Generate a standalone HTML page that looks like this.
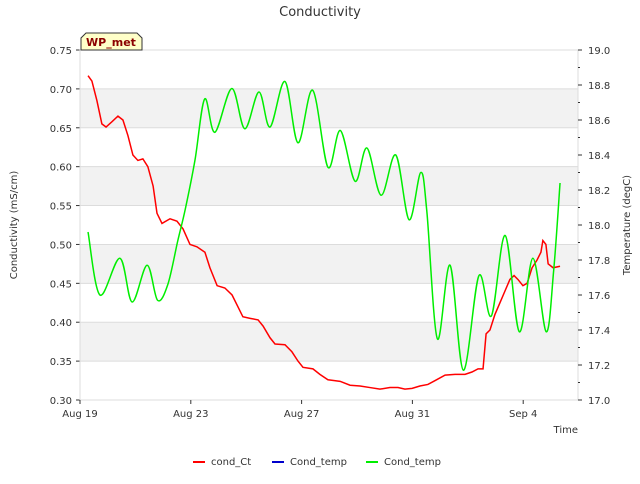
<!DOCTYPE html>
<html><head><meta charset="utf-8"><style>
body{margin:0;background:#fff;font-family:"DejaVu Sans","Liberation Sans",sans-serif;}
svg text{font-family:"DejaVu Sans","Liberation Sans",sans-serif;}
</style></head><body>
<svg id="c" width="640" height="480" xmlns="http://www.w3.org/2000/svg"></svg>
<script>
const leftTicks=[0.30,0.35,0.40,0.45,0.50,0.55,0.60,0.65,0.70,0.75];
const rightTicks=[17.0,17.2,17.4,17.6,17.8,18.0,18.2,18.4,18.6,18.8,19.0];
const xTickDays=[0,4,8,12,16];
const xTickLabels=["Aug 19","Aug 23","Aug 27","Aug 31","Sep 4"];
const condDays=[0.29,0.43,0.61,0.79,0.94,1.16,1.37,1.55,1.73,1.91,2.09,2.27,2.45,2.64,2.78,2.96,3.25,3.5,3.72,3.97,4.22,4.51,4.69,4.95,5.23,5.49,5.7,5.88,6.14,6.43,6.61,6.86,7.04,7.4,7.65,7.87,8.05,8.41,8.66,8.95,9.39,9.75,10.11,10.47,10.83,11.19,11.48,11.73,11.99,12.27,12.56,12.82,13.18,13.54,13.9,14.15,14.37,14.55,14.66,14.8,14.98,15.16,15.34,15.52,15.67,15.81,15.99,16.14,16.32,16.5,16.64,16.71,16.82,16.9,17.08,17.33];
const condVals=[.717,.71,.685,.655,.651,.658,.665,.66,.64,.615,.608,.61,.6,.575,.54,.527,.533,.53,.52,.5,.497,.49,.47,.447,.444,.435,.42,.407,.405,.403,.395,.38,.372,.371,.362,.35,.342,.34,.333,.326,.324,.319,.318,.316,.314,.316,.316,.314,.315,.318,.32,.325,.332,.333,.333,.336,.34,.34,.385,.39,.41,.425,.44,.455,.46,.455,.447,.45,.47,.48,.49,.505,.5,.475,.47,.472];
const tempDays=[0.29,0.72,1.44,1.88,2.42,2.8,3.17,3.53,3.8,4.15,4.5,4.87,5.48,5.95,6.46,6.86,7.4,7.87,8.4,8.95,9.4,9.93,10.36,10.87,11.4,11.88,12.3,12.52,12.9,13.36,13.84,14.4,14.85,15.35,15.86,16.35,16.83,17.1,17.33];
const tempVals=[17.96,17.6,17.81,17.56,17.77,17.57,17.66,17.91,18.09,18.37,18.72,18.53,18.78,18.55,18.76,18.56,18.82,18.47,18.77,18.33,18.54,18.25,18.44,18.17,18.4,18.03,18.3,18.08,17.35,17.77,17.17,17.71,17.48,17.94,17.39,17.81,17.39,17.74,18.24];

const L=80,R=578,T=50,B=400,PX=27.7;
const X=d=>L+d*PX, YL=v=>B-(v-0.3)/0.45*(B-T), YR=v=>B-(v-17)/2*(B-T);
const s=document.getElementById('c'),NS="http://www.w3.org/2000/svg";
function el(t,a,txt){const e=document.createElementNS(NS,t);for(const k in a)e.setAttribute(k,a[k]);if(txt!=null)e.textContent=txt;s.appendChild(e);return e;}
[[0.35,0.40],[0.45,0.50],[0.55,0.60],[0.65,0.70]].forEach(([a,b])=>{
const r=el('rect',{x:L,y:YL(b),width:R-L,height:YL(a)-YL(b),fill:'#f2f2f2'});

});
leftTicks.forEach(v=>{const g=el('line',{x1:L,x2:R,y1:YL(v),y2:YL(v),stroke:'#dcdcdc','stroke-width':1});


const t=el('text',{x:L-8,y:YL(v)+4,'text-anchor':'end','font-size':10,fill:'#333'},v.toFixed(2));


el('line',{x1:L-4,x2:L,y1:YL(v),y2:YL(v),stroke:'#333'});});
const fr=el('rect',{x:L,y:T,width:R-L,height:B-T,fill:'none',stroke:'#dcdcdc'});


rightTicks.forEach((v,i)=>{el('line',{x1:R,x2:R+4,y1:YR(v),y2:YR(v),stroke:'#333'});
if(i<rightTicks.length-1)el('line',{x1:R,x2:R+2,y1:YR(v+0.1),y2:YR(v+0.1),stroke:'#333'});
const t=el('text',{x:R+10,y:YR(v)+4,'font-size':10,fill:'#333'},v.toFixed(1));

});
xTickDays.forEach((d,i)=>{el('line',{x1:X(d),x2:X(d),y1:B,y2:B+4,stroke:'#333'});
const t=el('text',{x:X(d),y:B+17,'text-anchor':'middle','font-size':10,fill:'#333'},xTickLabels[i]);

});
function spline(xs,ys){let p=`M${xs[0]},${ys[0]}`;for(let i=0;i<xs.length-1;i++){const x0=xs[Math.max(i-1,0)],y0=ys[Math.max(i-1,0)],x3=xs[Math.min(i+2,xs.length-1)],y3=ys[Math.min(i+2,xs.length-1)];
p+=` C${xs[i]+(xs[i+1]-x0)/6},${ys[i]+(ys[i+1]-y0)/6} ${xs[i+1]-(x3-xs[i])/6},${ys[i+1]-(y3-ys[i])/6} ${xs[i+1]},${ys[i+1]}`;}return p;}
const rp=el('path',{d:'M'+condDays.map((d,i)=>X(d)+','+YL(condVals[i])).join(' L'),fill:'none',stroke:'#ff0000','stroke-width':1.5});


const gp=el('path',{d:spline(tempDays.map(X),tempVals.map(YR)),fill:'none',stroke:'#00ee00','stroke-width':1.5});


const ti=el('text',{x:320,y:16,'text-anchor':'middle','font-size':13,fill:'#333'},'Conductivity');

const yl=el('text',{x:17,y:225,'text-anchor':'middle','font-size':10,fill:'#333',transform:'rotate(-90 17 225)'},'Conductivity (mS/cm)');

const yr=el('text',{x:630,y:225,'text-anchor':'middle','font-size':10,fill:'#333',transform:'rotate(-90 630 225)'},'Temperature (degC)');

const xl=el('text',{x:578,y:433,'text-anchor':'end','font-size':10,fill:'#333'},'Time');

const bx=el('path',{d:'M81,50 L81,38 L86,33 L137,33 L142,38 L142,50 Z',fill:'#ffffc8',stroke:'#333'});

const bt=el('text',{x:111,y:46,'text-anchor':'middle','font-size':11,'font-weight':'bold',fill:'#8b0000'},'WP_met');

[['cond_Ct','#ff0000',193],['Cond_temp','#0000cc',272],['Cond_temp','#00ee00',366]].forEach(([n,c,x])=>{
el('line',{x1:x,x2:x+12,y1:462,y2:462,stroke:c,'stroke-width':2});
const t=el('text',{x:x+18,y:465,'font-size':10,fill:'#333'},n);
});
</script></body></html>
